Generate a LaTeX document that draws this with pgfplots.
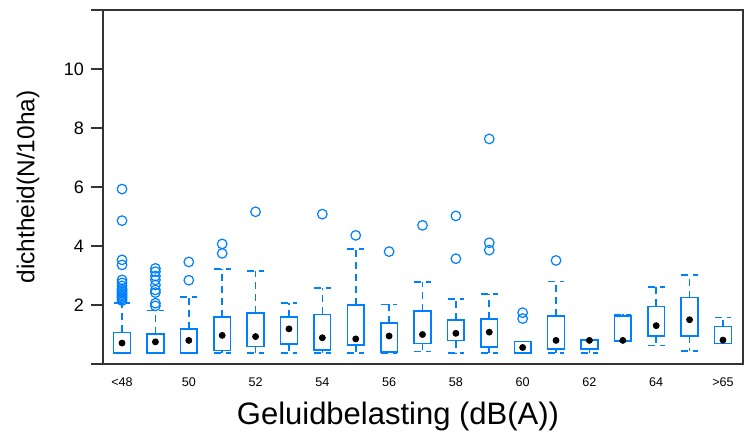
\documentclass[border=0pt]{standalone}
\usepackage{pgfplots}
\pgfplotsset{compat=1.18}
\usepgfplotslibrary{statistics}
\usepackage{fontspec}
\setmainfont{Liberation Sans}
\definecolor{lblue}{RGB}{0,128,255}
\pgfplotsset{
  bw/.style={
    lblue, line width=0.8pt, mark=o, mark size=2.4pt,
    mark options={solid, line width=0.6pt},
    boxplot/draw direction=y,
    boxplot/box extend=0.5,
    boxplot/whisker extend=0.5,
    boxplot/every whisker/.style={dash pattern=on 3.5pt off 2.5pt, line width=0.8pt},
    boxplot/draw/median/.code={},
  }
}
\begin{document}
\begin{tikzpicture}
\begin{axis}[
  scale only axis, width=320pt, height=177pt,
  xmin=-0.57, xmax=18.6, ymin=0, ymax=12,
  ytick={0,2,4,6,8,10,12}, yticklabels={,2,4,6,8,10,},
  xtick={0,2,4,6,8,10,12,14,16,18},
  xticklabels={<48,50,52,54,56,58,60,62,64,>65},
  ytick pos=left, tick align=outside,
  major tick length=6pt,
  xtick style={draw=none},
  ytick style={black!80, line width=0.7pt},
  axis line style={black!80, line width=0.7pt},
  /pgf/number format/assume math mode=true,
  yticklabel style={font=\fontsize{9}{10}\selectfont},
  xticklabel style={font=\fontsize{6.3}{7}\selectfont, anchor=base, yshift=-5pt},
  xlabel={Geluidbelasting (dB(A))},
  ylabel={dichtheid(N/10ha)},
  xlabel style={font=\fontsize{15.5}{17}\selectfont, at={(axis description cs:0.5,0)}, anchor=center, yshift=-26pt, xshift=-12.5pt},
  ylabel style={font=\fontsize{12.2}{14}\selectfont, at={(axis description cs:0,0.5)}, anchor=center, yshift=37.5pt},
  clip=false,
]
\addplot[bw, boxplot prepared={draw position=0, lower whisker=0.38, lower quartile=0.38, median=0.71, upper quartile=1.07, upper whisker=2.07}]
  table[row sep=\\, y index=0] {data\\ 5.93\\ 4.86\\ 3.53\\ 3.36\\ 2.85\\ 2.75\\ 2.65\\ 2.55\\ 2.5\\ 2.45\\ 2.4\\ 2.35\\ 2.3\\ 2.25\\ 2.2\\ 2.15\\};
\addplot[bw, boxplot prepared={draw position=1, lower whisker=0.38, lower quartile=0.38, median=0.75, upper quartile=1.02, upper whisker=1.81}]
  table[row sep=\\, y index=0] {data\\ 3.24\\ 3.13\\ 2.98\\ 2.85\\ 2.68\\ 2.51\\ 2.42\\ 2.06\\ 1.97\\};
\addplot[bw, boxplot prepared={draw position=2, lower whisker=0.38, lower quartile=0.38, median=0.80, upper quartile=1.19, upper whisker=2.27}]
  table[row sep=\\, y index=0] {data\\ 3.46\\ 2.84\\};
\addplot[bw, boxplot prepared={draw position=3, lower whisker=0.38, lower quartile=0.46, median=0.97, upper quartile=1.60, upper whisker=3.23}]
  table[row sep=\\, y index=0] {data\\ 4.07\\ 3.75\\};
\addplot[bw, boxplot prepared={draw position=4, lower whisker=0.38, lower quartile=0.59, median=0.93, upper quartile=1.73, upper whisker=3.16}]
  table[row sep=\\, y index=0] {data\\ 5.16\\};
\addplot[bw, boxplot prepared={draw position=5, lower whisker=0.38, lower quartile=0.67, median=1.19, upper quartile=1.60, upper whisker=2.07}]
  coordinates {};
\addplot[bw, boxplot prepared={draw position=6, lower whisker=0.38, lower quartile=0.47, median=0.89, upper quartile=1.68, upper whisker=2.57}]
  table[row sep=\\, y index=0] {data\\ 5.08\\};
\addplot[bw, boxplot prepared={draw position=7, lower whisker=0.38, lower quartile=0.64, median=0.85, upper quartile=2.00, upper whisker=3.89}]
  table[row sep=\\, y index=0] {data\\ 4.36\\};
\addplot[bw, boxplot prepared={draw position=8, lower whisker=0.38, lower quartile=0.41, median=0.95, upper quartile=1.39, upper whisker=2.02}]
  table[row sep=\\, y index=0] {data\\ 3.81\\};
\addplot[bw, boxplot prepared={draw position=9, lower whisker=0.42, lower quartile=0.70, median=1.00, upper quartile=1.79, upper whisker=2.77}]
  table[row sep=\\, y index=0] {data\\ 4.70\\};
\addplot[bw, boxplot prepared={draw position=10, lower whisker=0.38, lower quartile=0.79, median=1.04, upper quartile=1.50, upper whisker=2.20}]
  table[row sep=\\, y index=0] {data\\ 5.02\\ 3.57\\};
\addplot[bw, boxplot prepared={draw position=11, lower whisker=0.38, lower quartile=0.58, median=1.08, upper quartile=1.52, upper whisker=2.38}]
  table[row sep=\\, y index=0] {data\\ 7.63\\ 4.11\\ 3.86\\};
\addplot[bw, boxplot prepared={draw position=12, lower whisker=0.38, lower quartile=0.38, median=0.56, upper quartile=0.76, upper whisker=0.76}]
  table[row sep=\\, y index=0] {data\\ 1.74\\ 1.54\\};
\addplot[bw, boxplot prepared={draw position=13, lower whisker=0.38, lower quartile=0.50, median=0.80, upper quartile=1.62, upper whisker=2.79}]
  table[row sep=\\, y index=0] {data\\ 3.51\\};
\addplot[bw, boxplot prepared={draw position=14, lower whisker=0.38, lower quartile=0.51, median=0.80, upper quartile=0.81, upper whisker=0.81}]
  coordinates {};
\addplot[bw, boxplot prepared={draw position=15, lower whisker=0.78, lower quartile=0.78, median=0.80, upper quartile=1.63, upper whisker=1.68}]
  coordinates {};
\addplot[bw, boxplot prepared={draw position=16, lower whisker=0.63, lower quartile=0.95, median=1.30, upper quartile=1.95, upper whisker=2.62}]
  coordinates {};
\addplot[bw, boxplot prepared={draw position=17, lower whisker=0.44, lower quartile=0.95, median=1.50, upper quartile=2.25, upper whisker=3.02}]
  coordinates {};
\addplot[bw, boxplot prepared={draw position=18, lower whisker=0.70, lower quartile=0.70, median=0.81, upper quartile=1.27, upper whisker=1.58}]
  coordinates {};
% medians as black dots
\addplot[only marks, mark=*, mark size=1.5pt, black] coordinates {
  (0,0.71) (1,0.75) (2,0.80) (3,0.97) (4,0.93) (5,1.19) (6,0.89) (7,0.85) (8,0.95) (9,1.00)
  (10,1.04) (11,1.08) (12,0.56) (13,0.80) (14,0.80) (15,0.80) (16,1.30) (17,1.50) (18,0.81)};
\coordinate (sw) at (rel axis cs:0,0);
\coordinate (ne) at (rel axis cs:1,1);
\end{axis}
\pgfresetboundingbox
\path[use as bounding box] ([shift={(-51.5pt,-37.5pt)}]sw) rectangle ([shift={(1pt,5pt)}]ne);
\end{tikzpicture}
\end{document}
